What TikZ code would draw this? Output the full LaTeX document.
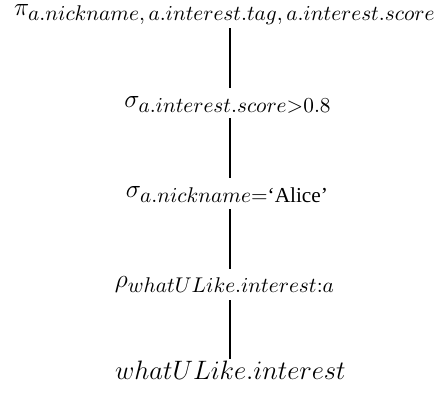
\documentclass[tikz,border=0pt]{standalone}
\usepackage{amsmath}
\usepackage{graphicx}
\usepackage[no-math]{fontspec}
\setmainfont{Liberation Serif}
\DeclareMathSizes{12}{12}{10}{7}
\usetikzlibrary{calc}
\newcommand{\opsz}[1]{\scalebox{1.065}{#1}}
\newcommand{\relsz}[1]{\scalebox{1.11}{#1}}
\begin{document}
\begin{tikzpicture}[x=0.5pt,y=-0.5pt,
  opnode/.style={inner sep=0pt, anchor=base, font=\fontsize{12}{14}\selectfont},
  edge/.style={line width=1pt}]
\useasboundingbox (0,0) rectangle (444,392);
\node[opnode] (pi) at (225,15) {\opsz{$\pi_{a.nickname,\, a.interest.tag,\, a.interest.score}$}};
\node[opnode] (s1) at (228,107) {\opsz{$\sigma_{a.interest.score>0.8}$}};
\node[opnode] (s2) at (227.5,197) {\opsz{$\sigma_{a.nickname=\textrm{‘Alice’}}$}};
\node[opnode] (rho) at (225,287) {\opsz{$\rho_{whatULike.interest:a}$}};
\node[opnode] (rel) at (230.5,379) {\relsz{$whatULike.interest$}};
\coordinate (lx) at (230,0);
\draw[edge] ($(pi.base -| lx)+(0,13)$) -- ($(s1.base -| lx)+(0,-19)$);
\draw[edge] ($(s1.base -| lx)+(0,11)$) -- ($(s2.base -| lx)+(0,-19)$);
\draw[edge] ($(s2.base -| lx)+(0,12)$) -- ($(rho.base -| lx)+(0,-18)$);
\draw[edge] ($(rho.base -| lx)+(0,13)$) -- ($(rel.base -| lx)+(0,-20)$);
\end{tikzpicture}
\end{document}
